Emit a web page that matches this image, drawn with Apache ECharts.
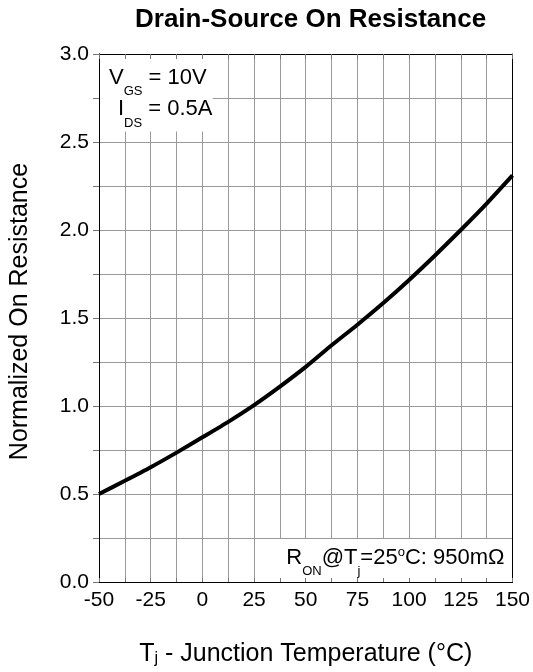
<!DOCTYPE html>
<html>
<head>
<meta charset="utf-8">
<script src="https://cdn.jsdelivr.net/npm/echarts@6/dist/echarts.min.js"></script>
<style>
html,body{margin:0;padding:0;background:#fff;}
#c{width:533px;height:672px;}
</style>
</head>
<body>
<div id="c"></div>
<script>
// Data
const temps = [-50, -37.5, -25, -12.5, 0, 12.5, 25, 37.5, 50, 62.5, 75, 87.5, 100, 112.5, 125, 137.5, 150];
const rNorm = [0.50, 0.575, 0.652, 0.735, 0.822, 0.91, 1.005, 1.11, 1.222, 1.345, 1.462, 1.585, 1.716, 1.855, 2.0, 2.15, 2.31];
const xMajorTicks = [-50, -25, 0, 25, 50, 75, 100, 125, 150];
const yMajorTicks = [0, 0.5, 1.0, 1.5, 2.0, 2.5, 3.0];

const FONT = "'Liberation Sans', Arial, Helvetica, sans-serif";
const chart = echarts.init(document.getElementById('c'), null, {renderer: 'canvas'});

const isMajor = (arr, v) => arr.some(t => Math.abs(t - v) < 1e-9);

const baseX = {type: 'value', min: -50, max: 150, interval: 12.5};
const baseY = {type: 'value', min: 0, max: 3, interval: 0.25};
const line = {show: true, onZero: false, lineStyle: {color: '#000', width: 1}};

const option = {
  animation: false,
  backgroundColor: '#fff',
  title: {
    text: 'Drain-Source On Resistance',
    left: 130, top: 2,
    textStyle: {fontFamily: FONT, fontSize: 26, fontWeight: 'bold', color: '#000'}
  },
  grid: {left: 98, right: 19, top: 54, bottom: 90, containLabel: false},
  xAxis: [
    Object.assign({}, baseX, {
      position: 'bottom', z: 0,
      name: '{n|T}{j|j}{n| - Junction Temperature (°C)}',
      nameLocation: 'middle', nameGap: 59,
      nameTextStyle: {
        fontFamily: FONT, color: '#000',
        rich: {
          n: {fontFamily: FONT, fontSize: 25, lineHeight: 26, color: '#000'},
          j: {fontFamily: FONT, fontSize: 16, verticalAlign: 'bottom', color: '#000'}
        }
      },
      axisLine: line,
      axisTick: {show: false},
      splitLine: {show: true, lineStyle: {color: '#999', width: 1}},
      axisLabel: {
        show: true, margin: 8, fontFamily: FONT, fontSize: 21, color: '#000',
        formatter: v => isMajor(xMajorTicks, v) ? String(v) : ''
      }
    }),
    Object.assign({}, baseX, {
      position: 'bottom', z: 5,
      axisLine: line,
      axisTick: {show: true, inside: true, length: 4, lineStyle: {color: '#777'}},
      splitLine: {show: false}, axisLabel: {show: false}
    }),
    Object.assign({}, baseX, {
      position: 'top', z: 5,
      axisLine: line,
      axisTick: {show: true, inside: true, length: 5, lineStyle: {color: '#777'}},
      splitLine: {show: false}, axisLabel: {show: false}
    })
  ],
  yAxis: [
    Object.assign({}, baseY, {
      position: 'left', z: 0,
      name: 'Normalized On Resistance',
      nameLocation: 'middle', nameGap: 66, nameRotate: 90,
      nameTextStyle: {fontFamily: FONT, fontSize: 25, color: '#000', padding: [0, 0, 0, 13]},
      axisLine: line,
      axisTick: {show: false},
      splitLine: {show: true, lineStyle: {color: '#999', width: 1}},
      axisLabel: {
        show: true, margin: 10, fontFamily: FONT, fontSize: 21, color: '#000',
        formatter: v => isMajor(yMajorTicks, v) ? v.toFixed(1) : ''
      }
    }),
    Object.assign({}, baseY, {
      position: 'left', z: 5,
      axisLine: line,
      axisTick: {show: true, inside: false, length: 6, lineStyle: {color: '#777'}},
      splitLine: {show: false}, axisLabel: {show: false}
    }),
    Object.assign({}, baseY, {
      position: 'right', z: 5,
      axisLine: line,
      axisTick: {show: false},
      splitLine: {show: false}, axisLabel: {show: false}
    })
  ],
  series: [{
    type: 'line',
    xAxisIndex: 0, yAxisIndex: 0,
    data: temps.map((t, i) => [t, rNorm[i]]),
    showSymbol: false,
    smooth: 0.2,
    z: 3,
    lineStyle: {color: '#000', width: 4},
    itemStyle: {color: '#000'}
  }]
};
chart.setOption(option);

// Annotation boxes placed from data coordinates
const p = (x, y) => chart.convertToPixel({gridIndex: 0}, [x, y]);
const tl1 = p(-50, 3.0), br1 = p(5, 2.56);
const tl2 = p(27, 0.245), br2 = p(150, 0);

const mainRich = (lh) => ({
  n: {fontFamily: FONT, fontSize: 22, lineHeight: lh, color: '#000'},
  s: {fontFamily: FONT, fontSize: 13, verticalAlign: 'bottom', color: '#000'},
  p: {fontFamily: FONT, fontSize: 13, verticalAlign: 'top', padding: [8, 0, 0, 0], color: '#000'}
});

chart.setOption({
  graphic: [
    {type: 'rect', z: 1, silent: true,
     shape: {x: tl1[0] + 1, y: tl1[1] + 1, width: br1[0] - tl1[0] - 1, height: br1[1] - tl1[1] - 1},
     style: {fill: '#fff', stroke: null}},
    {type: 'rect', z: 1, silent: true,
     shape: {x: tl2[0], y: tl2[1], width: br2[0] - tl2[0] - 1, height: br2[1] - tl2[1] - 1},
     style: {fill: '#fff', stroke: null}},
    {type: 'text', z: 4, silent: true,
     style: {x: tl1[0] + 10, y: tl1[1] + 24, text: '{n|V}{s|GS}{n| = 10V}',
             rich: mainRich(40), verticalAlign: 'middle', align: 'left'}},
    {type: 'text', z: 4, silent: true,
     style: {x: tl1[0] + 19, y: tl1[1] + 55, text: '{n|I}{s|DS}{n| = 0.5A}',
             rich: mainRich(42), verticalAlign: 'middle', align: 'left'}},
    {type: 'text', z: 4, silent: true,
     style: {x: br2[0] - 8, y: br2[1] - 24, text: '{n|R}{s|ON}{n|@T}{s|j}{n|=25}{p|o}{n|C: 950mΩ}',
             rich: mainRich(40), verticalAlign: 'middle', align: 'right'}}
  ]
});
</script>
</body>
</html>
